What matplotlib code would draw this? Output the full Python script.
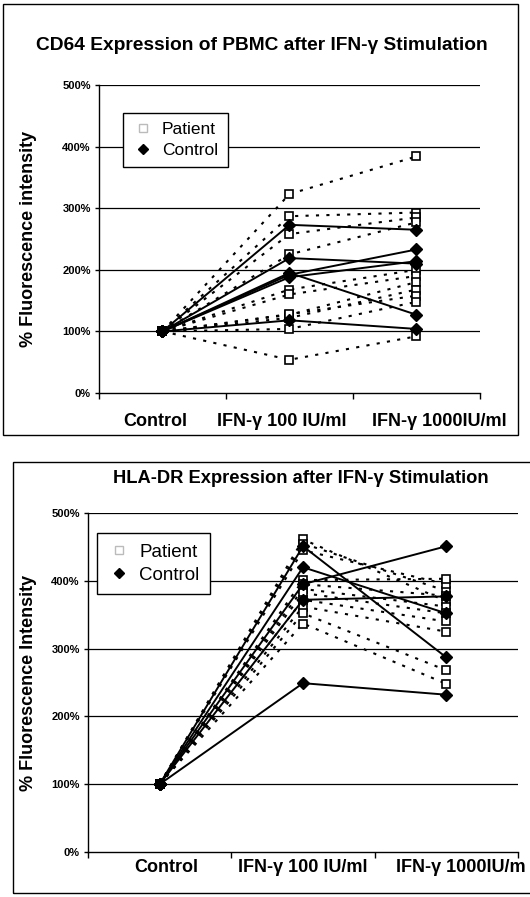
import matplotlib
matplotlib.use("Agg")
import matplotlib.pyplot as plt
from matplotlib.lines import Line2D
from matplotlib.patches import Rectangle

plt.rcParams['font.family'] = ['Liberation Sans', 'DejaVu Sans']

categories_top = ["Control", "IFN-\u03b3 100 IU/ml", "IFN-\u03b3 1000IU/ml"]
categories_bot = ["Control", "IFN-\u03b3 100 IU/ml", "IFN-\u03b3 1000IU/m"]
yticks = [0, 100, 200, 300, 400, 500]
ytick_labels = ["0%", "100%", "200%", "300%", "400%", "500%"]

baseline = 100

# CD64 (top)
cd64_patient_100 = [323, 287, 258, 225, 168, 160, 127, 122, 128, 104, 54]
cd64_patient_1000 = [384, 293, 285, 277, 200, 190, 180, 168, 158, 148, 92]
cd64_control_100 = [273, 219, 192, 195, 188, 118]
cd64_control_1000 = [265, 210, 233, 127, 214, 104]

# HLA-DR (bottom)
hla_patient_100 = [461, 455, 445, 401, 395, 388, 382, 372, 362, 352, 337]
hla_patient_1000 = [370, 385, 395, 403, 378, 362, 352, 340, 325, 268, 248]
hla_control_100 = [451, 420, 395, 372, 249]
hla_control_1000 = [287, 352, 451, 377, 232]

W, H = 530, 897
fig = plt.figure(figsize=(W / 100, H / 100), dpi=100)
fig.patch.set_facecolor("white")


def fx(px):
    return px / W


def fy(py):
    return 1 - py / H


def draw_panel(ax, pat100, pat1000, ctl100, ctl1000, cats, ylabel, leg_anchor,
               xpad_px, ylabelpad, label_shifts_px, legfs):
    x = [0, 1, 2]
    for a, b in zip(pat100, pat1000):
        ax.plot(x, [baseline, a, b], color="black", lw=1.5, ls=(0, (1.5, 3.5)),
                marker="s", ms=6, mfc="white", mec="black", mew=1.2, zorder=3)
    for a, b in zip(ctl100, ctl1000):
        ax.plot(x, [baseline, a, b], color="black", lw=1.4, ls="-",
                marker="D", ms=6.5, mfc="black", mec="black", zorder=4)
    ax.set_xlim(-0.5, 2.5)
    ax.set_ylim(0, 500)
    ax.set_yticks(yticks)
    ax.set_yticklabels(ytick_labels, fontsize=8, fontweight="bold")
    ax.set_xticks([-0.5, 0.5, 1.5, 2.5])
    ax.set_xticklabels([])
    ax.tick_params(axis="x", length=4, direction="out", width=1)
    ax.tick_params(axis="y", length=3, width=1, pad=3)
    for i, (cat, dx) in enumerate(zip(cats, label_shifts_px)):
        ax.annotate(cat, xy=(x[i], 0), xycoords=ax.get_xaxis_transform(),
                    xytext=(dx * 0.72, -xpad_px * 0.72), textcoords="offset points",
                    ha="center", va="top", fontsize=13, fontweight="bold",
                    annotation_clip=False)
    for y in yticks[1:]:
        ax.axhline(y, color="black", lw=0.9, zorder=1)
    for s in ["top", "right"]:
        ax.spines[s].set_visible(False)
    ax.spines["left"].set_linewidth(1)
    ax.spines["bottom"].set_linewidth(1)
    ax.set_ylabel(ylabel, fontsize=13, fontweight="bold", labelpad=ylabelpad)
    handles = [
        Line2D([], [], ls="none", marker="s", ms=6, mfc="white", mec="#bbbbbb", mew=1),
        Line2D([], [], ls="none", marker="D", ms=5, mfc="black", mec="black"),
    ]
    leg = ax.legend(handles, ["Patient", "Control"], loc="upper left",
                    bbox_to_anchor=leg_anchor, borderaxespad=0, fancybox=False,
                    framealpha=1, edgecolor="black", fontsize=legfs, handlelength=1.2,
                    handletextpad=0.5, borderpad=0.55, labelspacing=0.3)
    leg.get_frame().set_linewidth(1)


# Top panel
ax1 = fig.add_axes([fx(99), fy(393), fx(480 - 99), (393 - 85) / H])
draw_panel(ax1, cd64_patient_100, cd64_patient_1000, cd64_control_100, cd64_control_1000,
           categories_top, "% Fluorescence intensity", (0.063, 0.91),
           xpad_px=20, ylabelpad=18, label_shifts_px=[-7, -8, 23], legfs=12.5)
fig.text(fx(262), fy(45), "CD64 Expression of PBMC after IFN-\u03b3 Stimulation",
         ha="center", va="center", fontsize=13.8, fontweight="bold")
fig.patches.append(Rectangle((fx(3), fy(435)), fx(518 - 3), (435 - 4) / H,
                             transform=fig.transFigure, fill=False, ec="black", lw=1))

# Bottom panel
ax2 = fig.add_axes([fx(88), fy(852), fx(518 - 88), (852 - 513) / H])
draw_panel(ax2, hla_patient_100, hla_patient_1000, hla_control_100, hla_control_1000,
           categories_bot, "% Fluorescence Intensity", (0.021, 0.94),
           xpad_px=7, ylabelpad=10, label_shifts_px=[7, 0, 14], legfs=13.5)
fig.text(fx(301), fy(478), "HLA-DR Expression after IFN-\u03b3 Stimulation",
         ha="center", va="center", fontsize=13.2, fontweight="bold")
fig.patches.append(Rectangle((fx(13), fy(893)), fx(540 - 13), (893 - 462) / H,
                             transform=fig.transFigure, fill=False, ec="black", lw=1))

fig.savefig("out.png", dpi=100, facecolor="white")
